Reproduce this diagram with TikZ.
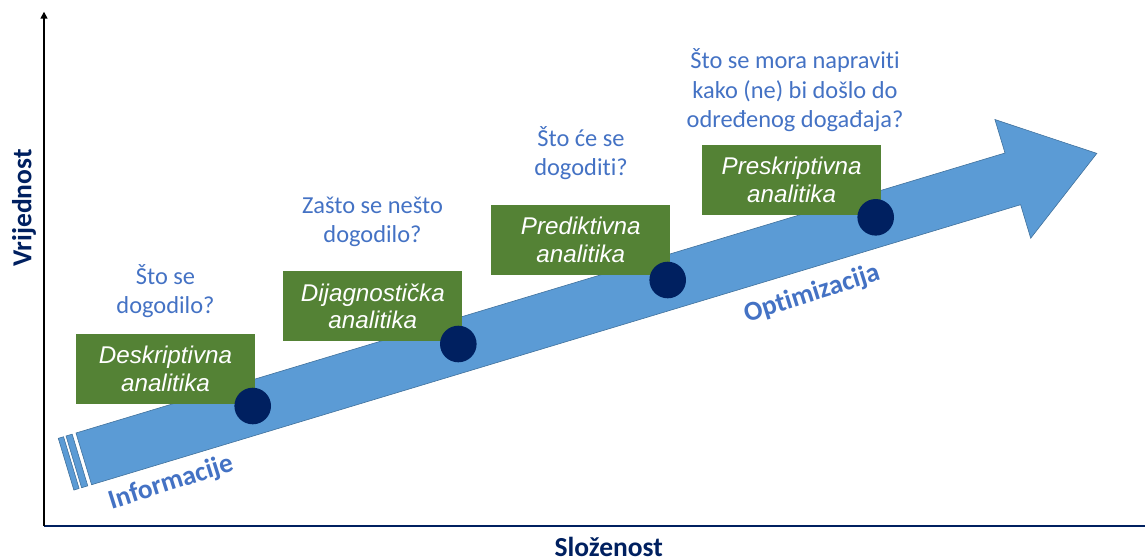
\documentclass[tikz,border=0pt]{standalone}
\usepackage{fontspec}
\setmainfont{Carlito}[Ligatures=NoCommon]
\newfontfamily\boxfont{Liberation Sans}
\usetikzlibrary{arrows.meta}
\definecolor{arrowblue}{HTML}{5B9BD5}
\definecolor{arrowedge}{HTML}{41719C}
\definecolor{boxgreen}{HTML}{548235}
\definecolor{navy}{HTML}{002060}
\definecolor{qblue}{HTML}{4472C4}
\tikzset{
  stagebox/.style={fill=boxgreen, minimum width=179pt, minimum height=70pt, inner sep=0pt,
    align=center, text=white, font=\boxfont\itshape\fontsize{24.2}{27.7}\selectfont},
  stagedot/.style={circle, fill=navy, minimum size=36.6pt, inner sep=0pt},
  question/.style={text=qblue, align=center, font=\fontsize{24.4}{29.5}\selectfont, inner sep=0pt},
  axislabel/.style={text=navy, font=\bfseries\fontsize{27.5}{30}\selectfont, inner sep=0pt},
  flowlabel/.style={text=qblue, font=\bfseries\fontsize{27.3}{30}\selectfont, inner sep=0pt, rotate=17.5},
  arrowpart/.style={fill=arrowblue, draw=arrowedge, line width=0.6pt, line join=miter},
}
\begin{document}
\begin{tikzpicture}[x=1pt,y=-1pt]
\useasboundingbox (0,0) rectangle (1145,558);
% axes
\coordinate (origin) at (44,526);
\coordinate (ytop) at (44,11.7);
\coordinate (xend) at (1145,526);
\draw[navy, line width=2pt] (origin) -- (xend);
\draw[black, line width=1.5pt, -{Triangle[width=7pt,length=7pt]}] (origin) -- (ytop);
% big arrow
\path[arrowpart] (76,433) -- (1005,153) -- (994.9,119.5) -- (1096.8,153.4) -- (1030.7,238.2)
  -- (1020.6,204.7) -- (91.6,484.7) -- cycle;
\path[arrowpart] (72.17,434.15) -- (87.75,485.85) -- (81.6,487.7) -- (66.04,436.0) -- cycle;
\path[arrowpart] (63.55,436.75) -- (79.1,488.45) -- (73.87,490.04) -- (58.29,438.34) -- cycle;
% boxes
\node[stagebox] (b1) at (165.5,368.5) {Deskriptivna\\analitika};
\node[stagebox] (b2) at (372.8,306.3) {Dijagnostička\\analitika};
\node[stagebox] (b3) at (580.8,240.1) {Prediktivna\\analitika};
\node[stagebox] (b4) at (791.6,179.6) {Preskriptivna\\analitika};
% dots
\node[stagedot] (d1) at (252.7,406) {};
\node[stagedot] (d2) at (458.3,344) {};
\node[stagedot] (d3) at (667.7,280) {};
\node[stagedot] (d4) at (875.7,217.3) {};
% questions
\node[question] (q1) at (165.5,291) {Što se\\dogodilo?};
\node[question] (q2) at (372.5,222) {Zašto se nešto\\dogodilo?};
\node[question] (q3) at (581,153) {Što će se\\dogoditi?};
\node[question] (q4) at (795,90.5) {Što se mora napraviti\\kako (ne) bi došlo do\\određenog događaja?};
% labels
\node[axislabel, rotate=90] (ylab) at (24,208) {Vrijednost};
\node[axislabel] (xlab) at (608.7,546.5) {Složenost};
\node[flowlabel] (info) at (171,483) {Informacije};
\node[flowlabel] (opt) at (812,294) {Optimizacija};
\end{tikzpicture}
\end{document}
